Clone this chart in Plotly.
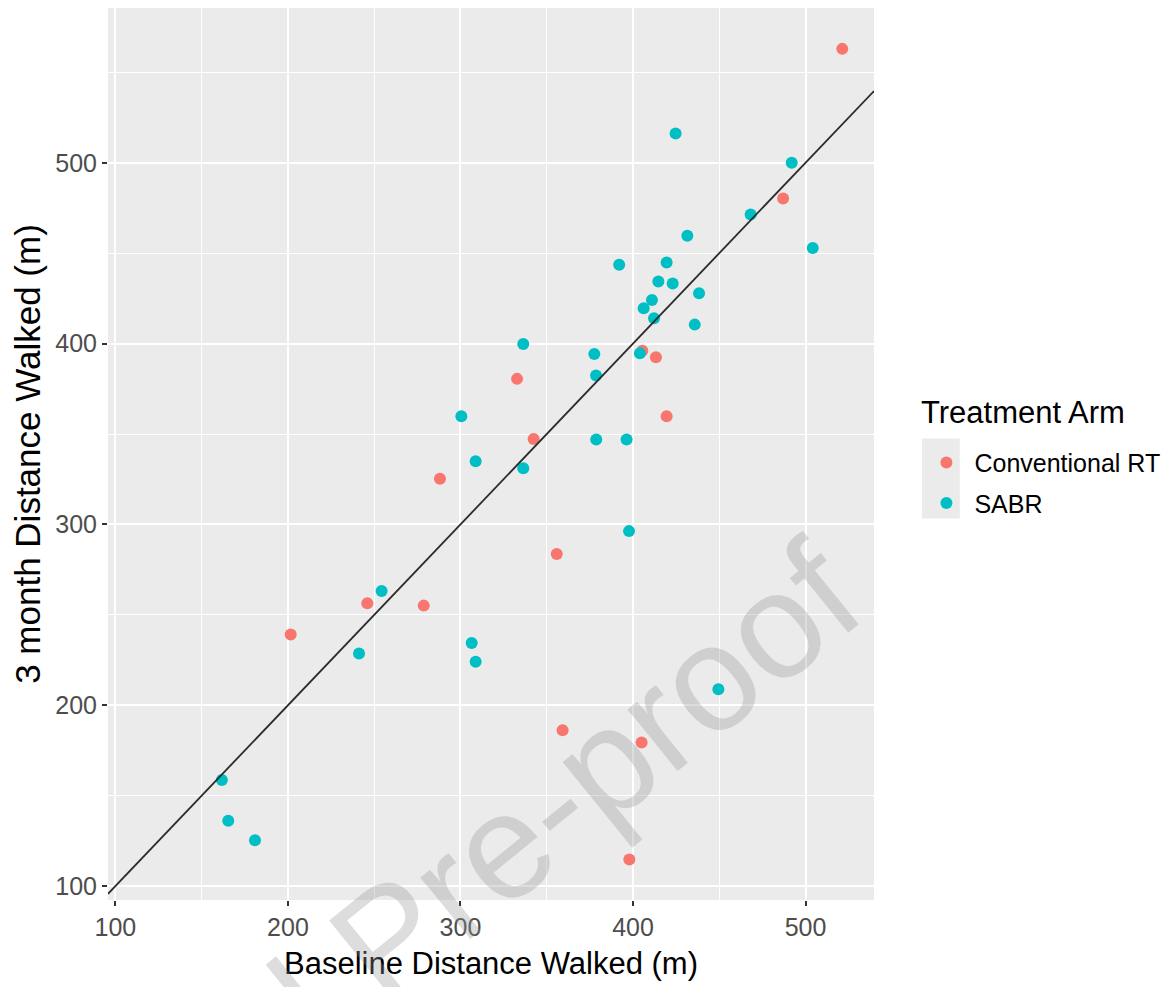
import plotly.graph_objects as go

# ---- data ----
conv_baseline = [521.3, 487.0, 405.4, 413.3, 332.8, 419.5, 342.4, 288.1, 355.8, 246.0,
                 278.7, 201.6, 359.2, 405.0, 397.9]
conv_3month = [563.0, 480.3, 396.0, 392.4, 380.5, 359.8, 347.3, 325.3, 283.6, 256.4,
               255.1, 239.1, 186.2, 179.4, 114.7]

sabr_baseline = [424.7, 492.0, 468.2, 431.5, 504.2, 392.0, 419.5, 414.7, 423.0, 438.3,
                 411.0, 406.2, 412.2, 435.8, 336.4, 377.6, 404.0, 378.6, 300.5, 378.7,
                 396.3, 308.8, 336.4, 397.7, 254.3, 241.2, 306.5, 308.8, 449.5, 161.7,
                 165.4, 180.9]
sabr_3month = [516.2, 500.0, 471.4, 459.7, 452.9, 443.6, 444.9, 434.3, 433.3, 427.8,
               424.1, 419.5, 414.0, 410.5, 399.8, 394.3, 394.6, 382.3, 359.8, 347.0,
               347.0, 335.0, 331.1, 296.3, 263.2, 228.6, 234.4, 224.0, 208.8, 158.6,
               136.1, 125.4]

tick_vals = [100, 200, 300, 400, 500]
tick_text = ["100", "200", "300", "400", "500"]

x_range = [95.7, 539.7]
y_range = [92.3, 585.6]

RED = "#F8766D"
CYAN = "#00BFC4"
FONT = "Liberation Sans, Arial, Helvetica, sans-serif"

fig = go.Figure()
fig.add_trace(go.Scatter(
    x=conv_baseline, y=conv_3month, mode="markers", name="Conventional RT",
    legendgroup="a",
    marker=dict(color=RED, size=12, line=dict(width=0)),
))
fig.add_trace(go.Scatter(
    x=sabr_baseline, y=sabr_3month, mode="markers", name="SABR",
    legendgroup="b",
    marker=dict(color=CYAN, size=12, line=dict(width=0)),
))
# identity line y = x across the x range
fig.add_trace(go.Scatter(
    x=x_range, y=x_range, mode="lines", showlegend=False,
    line=dict(color="#2b2b2b", width=1.8), hoverinfo="skip",
))

axis_common = dict(
    tickvals=tick_vals, ticktext=tick_text,
    showgrid=True, gridcolor="white", gridwidth=2.2,
    zeroline=False, showline=False,
    ticks="outside", ticklen=5, tickwidth=1.5, tickcolor="#333333",
    tickfont=dict(family=FONT, size=25, color="#4D4D4D"),
    minor=dict(dtick=50, tick0=50, showgrid=True, gridcolor="white", gridwidth=1.1, ticks=""),
    fixedrange=True, automargin=False,
)

fig.update_layout(
    width=1165, height=979,
    margin=dict(l=100, r=299, t=0, b=87, autoexpand=False),
    paper_bgcolor="white",
    plot_bgcolor="#EBEBEB",
    font=dict(family=FONT, color="black"),
    xaxis=dict(range=x_range, **axis_common,
               title=dict(text="Baseline Distance Walked (m)",
                          font=dict(family=FONT, size=31, color="black"), standoff=12)),
    yaxis=dict(range=y_range, **axis_common,
               title=dict(text="3 month Distance Walked (m)",
                          font=dict(family=FONT, size=35, color="black"), standoff=6)),
    legend=dict(
        font=dict(family=FONT, size=25, color="black"),
        x=1.058, xanchor="left", y=0.516, yanchor="top",
        bgcolor="rgba(0,0,0,0)", tracegroupgap=5, itemwidth=46,
    ),
    showlegend=True,
)

# legend title
fig.add_annotation(
    text="Treatment Arm", xref="paper", yref="paper",
    x=1.059, y=0.546, xanchor="left", yanchor="middle", showarrow=False,
    font=dict(family=FONT, size=31, color="black"),
)

# grey legend-key background
fig.add_shape(type="rect", xref="paper", yref="paper",
              x0=1.0627, x1=1.112, y0=0.4278, y1=0.5174,
              fillcolor="#EBEBEB", line=dict(width=0), layer="below")

# "Journal Pre-proof" watermark
fig.add_annotation(
    text="Journal Pre-proof", xref="paper", yref="paper",
    x=0.365, y=-0.044, xanchor="center", yanchor="middle",
    textangle=-39, showarrow=False,
    font=dict(family=FONT, size=150, color="rgba(150,150,150,0.32)"),
)

fig.write_html("out.html")
